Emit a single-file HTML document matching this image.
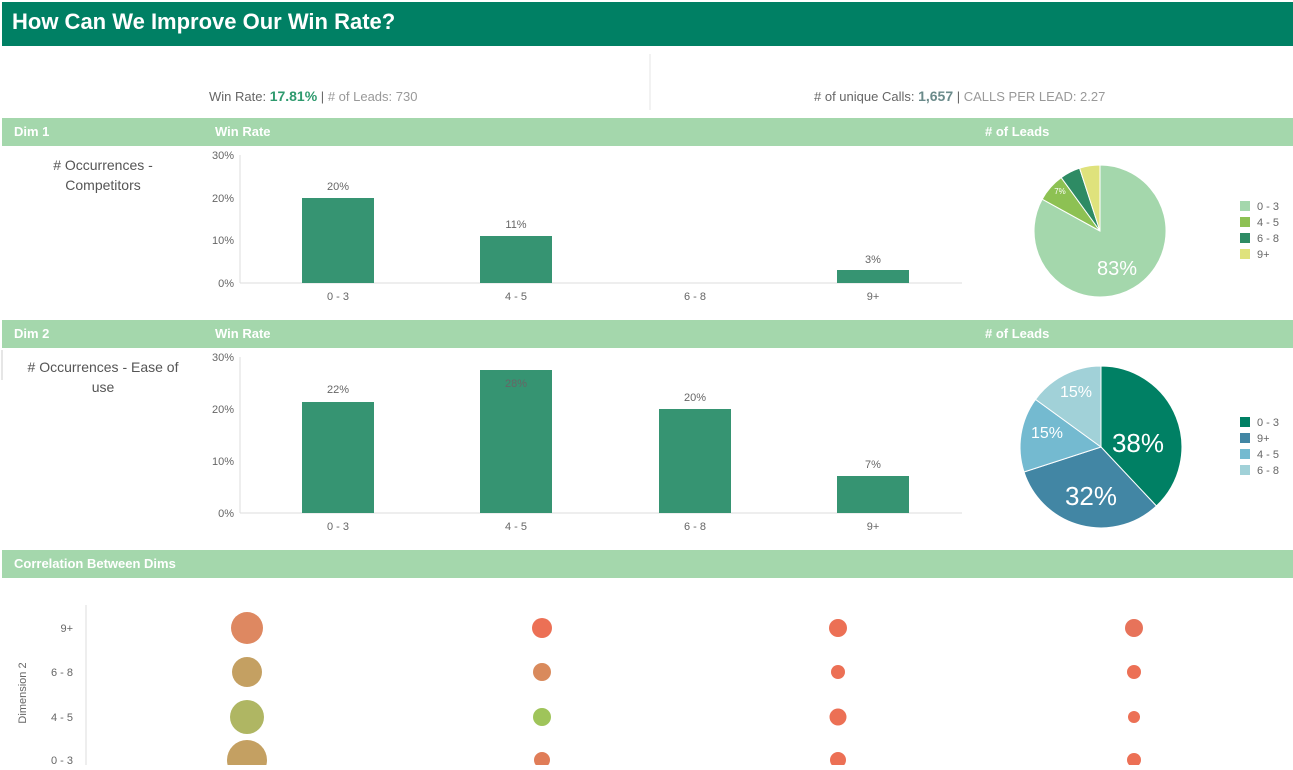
<!DOCTYPE html><html><head><style>
body{margin:0;width:1293px;height:765px;overflow:hidden;background:#fff;font-family:"Liberation Sans",sans-serif}
</style></head><body>
<svg width="1293" height="765" xmlns="http://www.w3.org/2000/svg" font-family="Liberation Sans, sans-serif">
<rect x="2" y="2" width="1291" height="44" fill="#008064"/>
<text x="12" y="29" font-size="22" font-weight="bold" fill="#fff">How Can We Improve Our Win Rate?</text>
<line x1="650" y1="54" x2="650" y2="110" stroke="#e5e5e5"/>
<text x="209" y="101" font-size="13" fill="#666">Win Rate: <tspan font-weight="bold" fill="#2e9a6e" font-size="14">17.81%</tspan>  <tspan fill="#666">|</tspan> <tspan fill="#999"># of Leads:  730</tspan></text>
<text x="814" y="101" font-size="13" fill="#666"># of unique Calls: <tspan font-weight="bold" fill="#6a8a8a" font-size="14">1,657</tspan>  | <tspan fill="#999">CALLS PER LEAD:  2.27</tspan></text>
<g font-size="13" font-weight="bold" fill="#fff">
<rect x="2" y="118" width="1291" height="28" fill="#a4d7ac"/>
<text x="14" y="136">Dim 1</text><text x="215" y="136">Win Rate</text><text x="985" y="136"># of Leads</text>
<rect x="2" y="320" width="1291" height="28" fill="#a4d7ac"/>
<text x="14" y="338">Dim 2</text><text x="215" y="338">Win Rate</text><text x="985" y="338"># of Leads</text>
<rect x="2" y="550" width="1291" height="28" fill="#a4d7ac"/>
<text x="14" y="568">Correlation Between Dims</text>
</g>
<g font-size="14" fill="#555" text-anchor="middle">
<text x="103" y="170"># Occurrences -</text><text x="103" y="190">Competitors</text>
<text x="103" y="372"># Occurrences - Ease of</text><text x="103" y="392">use</text>
</g>
<line x1="2" y1="350" x2="2" y2="380" stroke="#ccc"/>
<g font-size="11" fill="#666">
<line x1="240" y1="155" x2="240" y2="283" stroke="#ddd"/>
<line x1="240" y1="283" x2="962" y2="283" stroke="#ddd"/>
<text x="234" y="159" text-anchor="end">30%</text><text x="234" y="202" text-anchor="end">20%</text><text x="234" y="244" text-anchor="end">10%</text><text x="234" y="287" text-anchor="end">0%</text>
<rect x="302" y="198" width="72" height="85" fill="#369472"/>
<rect x="480" y="236" width="72" height="47" fill="#369472"/>
<rect x="837" y="270" width="72" height="13" fill="#369472"/>
<g text-anchor="middle"><text x="338" y="190">20%</text><text x="516" y="228">11%</text><text x="873" y="263">3%</text>
<text x="338" y="300">0 - 3</text><text x="516" y="300">4 - 5</text><text x="695" y="300">6 - 8</text><text x="873" y="300">9+</text></g>
</g>
<g font-size="11" fill="#666">
<line x1="240" y1="357" x2="240" y2="513" stroke="#ddd"/>
<line x1="240" y1="513" x2="962" y2="513" stroke="#ddd"/>
<text x="234" y="361" text-anchor="end">30%</text><text x="234" y="413" text-anchor="end">20%</text><text x="234" y="465" text-anchor="end">10%</text><text x="234" y="517" text-anchor="end">0%</text>
<rect x="302" y="402" width="72" height="111" fill="#369472"/>
<rect x="480" y="370" width="72" height="143" fill="#369472"/>
<rect x="659" y="409" width="72" height="104" fill="#369472"/>
<rect x="837" y="476" width="72" height="37" fill="#369472"/>
<g text-anchor="middle"><text x="338" y="393">22%</text><text x="516" y="387">28%</text><text x="695" y="401">20%</text><text x="873" y="468">7%</text>
<text x="338" y="530">0 - 3</text><text x="516" y="530">4 - 5</text><text x="695" y="530">6 - 8</text><text x="873" y="530">9+</text></g>
</g>
<g stroke="#fff" stroke-width="1">
<path d="M1100 231 L1100 165 A66 66 0 1 1 1042.2 199.2Z" fill="#a4d7ac"/>
<path d="M1100 231 L1042.2 199.2 A66 66 0 0 1 1061.2 177.6Z" fill="#8dc153"/>
<path d="M1100 231 L1061.2 177.6 A66 66 0 0 1 1079.6 168.2Z" fill="#2e8b64"/>
<path d="M1100 231 L1079.6 168.2 A66 66 0 0 1 1100 165Z" fill="#dfe27c"/>
</g>
<text x="1117" y="275" font-size="20" fill="#fff" text-anchor="middle">83%</text>
<text x="1060" y="194" font-size="8" fill="#fff" text-anchor="middle">7%</text>
<g font-size="11" fill="#666">
<rect x="1240" y="201" width="10" height="10" fill="#a4d7ac"/><text x="1257" y="210">0 - 3</text>
<rect x="1240" y="217" width="10" height="10" fill="#8dc153"/><text x="1257" y="226">4 - 5</text>
<rect x="1240" y="233" width="10" height="10" fill="#2e8b64"/><text x="1257" y="242">6 - 8</text>
<rect x="1240" y="249" width="10" height="10" fill="#dfe27c"/><text x="1257" y="258">9+</text>
</g>
<g stroke="#fff" stroke-width="1">
<path d="M1101 447 L1101 366 A81 81 0 0 1 1156.4 506Z" fill="#008064"/>
<path d="M1101 447 L1156.4 506 A81 81 0 0 1 1024 472Z" fill="#4286a4"/>
<path d="M1101 447 L1024 472 A81 81 0 0 1 1035.5 399.4Z" fill="#74bad0"/>
<path d="M1101 447 L1035.5 399.4 A81 81 0 0 1 1101 366Z" fill="#a1d1d8"/>
</g>
<g fill="#fff" text-anchor="middle"><text x="1138" y="452" font-size="26">38%</text><text x="1091" y="505" font-size="26">32%</text>
<text x="1047" y="438" font-size="16">15%</text><text x="1076" y="397" font-size="16">15%</text></g>
<g font-size="11" fill="#666">
<rect x="1240" y="417" width="10" height="10" fill="#008064"/><text x="1257" y="426">0 - 3</text>
<rect x="1240" y="433" width="10" height="10" fill="#4286a4"/><text x="1257" y="442">9+</text>
<rect x="1240" y="449" width="10" height="10" fill="#74bad0"/><text x="1257" y="458">4 - 5</text>
<rect x="1240" y="465" width="10" height="10" fill="#a1d1d8"/><text x="1257" y="474">6 - 8</text>
</g>
<line x1="86" y1="605" x2="86" y2="765" stroke="#ddd"/>
<g font-size="11" fill="#666" text-anchor="end">
<text x="73" y="632">9+</text><text x="73" y="676">6 - 8</text><text x="73" y="721">4 - 5</text><text x="73" y="764">0 - 3</text>
</g>
<text transform="translate(26 693) rotate(-90)" font-size="11" fill="#666" text-anchor="middle">Dimension 2</text>
<g>
<circle cx="247" cy="628" r="16" fill="#de8861"/>
<circle cx="247" cy="672" r="15" fill="#c4a062"/>
<circle cx="247" cy="717" r="17" fill="#afb663"/>
<circle cx="247" cy="760" r="20" fill="#c4a062"/>
<circle cx="542" cy="628" r="10" fill="#ec7055"/>
<circle cx="542" cy="672" r="9" fill="#d98a5c"/>
<circle cx="542" cy="717" r="9" fill="#9fc45a"/>
<circle cx="542" cy="760" r="8" fill="#e07d58"/>
<circle cx="838" cy="628" r="9" fill="#ec7055"/>
<circle cx="838" cy="672" r="7" fill="#ec7055"/>
<circle cx="838" cy="717" r="8.5" fill="#ec7055"/>
<circle cx="838" cy="760" r="8" fill="#ec7055"/>
<circle cx="1134" cy="628" r="9" fill="#e7735a"/>
<circle cx="1134" cy="672" r="7" fill="#ec7055"/>
<circle cx="1134" cy="717" r="6" fill="#ec7055"/>
<circle cx="1134" cy="760" r="7" fill="#ec7055"/>
</g>
</svg>
</body></html>
